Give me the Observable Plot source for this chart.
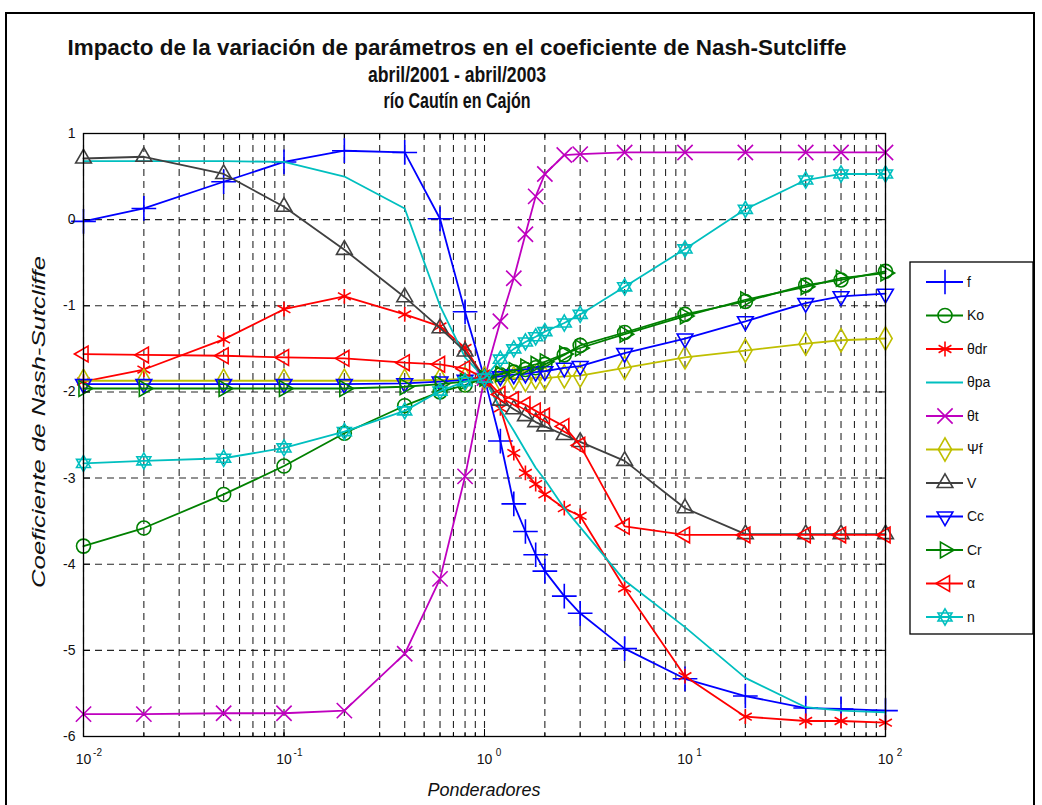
<!DOCTYPE html>
<html><head><meta charset="utf-8">
<script src="https://cdn.jsdelivr.net/npm/d3@7"></script>
<script src="https://cdn.jsdelivr.net/npm/@observablehq/plot@0.6"></script>
<style>
html,body{margin:0;padding:0;background:#fff;}
#page{position:relative;width:1042px;height:805px;overflow:hidden;font-family:"Liberation Sans",Arial,sans-serif;}
#outer{position:absolute;left:5px;top:12px;width:1030px;height:800px;border:2px solid #000;box-sizing:border-box;}
#chart{position:absolute;left:0;top:0;}
#overlay{position:absolute;left:0;top:0;}
</style>
</head><body>
<div id="page">
  <div id="outer"></div>
  <div id="chart"></div>
  <svg id="overlay" width="1042" height="805"></svg>
</div>
<script>
// ---------- data ----------
const ponderadores = [0.01,0.02,0.05,0.1,0.2,0.4,0.6,0.8,1,1.2,1.4,1.6,1.8,2,2.5,3,5,10,20,40,60,100];
const seriesNames = ["f","Ko","θdr","θpa","θt","Ψf","V","Cc","Cr","α","n"];
const f_vals   = [-0.02,0.13,0.44,0.67,0.80,0.78,0.01,-1.07,-1.84,-2.57,-3.30,-3.62,-3.89,-4.08,-4.37,-4.57,-4.98,-5.33,-5.53,-5.67,-5.68,-5.70];
const Ko_vals  = [-3.79,-3.58,-3.19,-2.86,-2.48,-2.16,-2.00,-1.92,-1.84,-1.80,-1.77,-1.74,-1.72,-1.68,-1.57,-1.46,-1.31,-1.10,-0.95,-0.76,-0.70,-0.60];
const tdr_vals = [-1.88,-1.74,-1.39,-1.04,-0.89,-1.10,-1.24,-1.49,-1.84,-2.19,-2.71,-2.94,-3.07,-3.19,-3.35,-3.44,-4.28,-5.30,-5.77,-5.82,-5.82,-5.84];
const tpa_vals = [0.68,0.68,0.68,0.67,0.50,0.13,-1.00,-1.60,-1.84,-2.20,-2.45,-2.68,-2.88,-3.02,-3.35,-3.57,-4.19,-4.73,-5.32,-5.66,-5.70,-5.72];
const tt_vals  = [-5.74,-5.74,-5.73,-5.73,-5.70,-5.04,-4.17,-2.98,-1.84,-1.18,-0.68,-0.17,0.27,0.53,0.75,0.76,0.78,0.78,0.78,0.78,0.78,0.78];
const psi_vals = [-1.87,-1.87,-1.87,-1.87,-1.87,-1.87,-1.86,-1.85,-1.84,-1.86,-1.84,-1.86,-1.83,-1.84,-1.82,-1.81,-1.72,-1.60,-1.52,-1.44,-1.40,-1.38];
const V_vals   = [0.71,0.73,0.53,0.15,-0.35,-0.90,-1.26,-1.53,-1.84,-2.10,-2.20,-2.28,-2.35,-2.40,-2.50,-2.58,-2.80,-3.35,-3.65,-3.65,-3.65,-3.65];
const Cc_vals  = [-1.91,-1.91,-1.91,-1.91,-1.91,-1.90,-1.88,-1.86,-1.84,-1.82,-1.80,-1.79,-1.77,-1.76,-1.72,-1.70,-1.55,-1.38,-1.18,-0.97,-0.89,-0.86];
const Cr_vals  = [-1.96,-1.96,-1.96,-1.96,-1.96,-1.94,-1.91,-1.88,-1.84,-1.79,-1.75,-1.71,-1.68,-1.65,-1.56,-1.49,-1.33,-1.12,-0.93,-0.78,-0.68,-0.62];
const a_vals   = [-1.56,-1.57,-1.58,-1.60,-1.61,-1.66,-1.68,-1.73,-1.84,-2.03,-2.09,-2.15,-2.22,-2.28,-2.40,-2.62,-3.56,-3.66,-3.66,-3.66,-3.66,-3.66];
const n_vals   = [-2.83,-2.80,-2.77,-2.65,-2.46,-2.22,-1.99,-1.88,-1.84,-1.62,-1.50,-1.42,-1.36,-1.30,-1.20,-1.10,-0.78,-0.34,0.12,0.46,0.53,0.53];
const yTicks = [1,0,-1,-2,-3,-4,-5,-6];
const xDecades = [0.01,0.1,1,10,100];
const titleLines = ["Impacto de la variación de parámetros en el coeficiente de Nash-Sutcliffe","abril/2001 - abril/2003","río Cautín en Cajón"];
const yLabel = "Coeficiente de Nash-Sutcliffe";
const xLabel = "Ponderadores";

// ---------- styles ----------
const hexagram = {
  draw(ctx, size) {
    const r = Math.sqrt(size / Math.PI) * 1.15;
    for (const a0 of [-90, 90]) {
      for (let k = 0; k < 3; k++) {
        const a = (a0 + 120 * k) * Math.PI / 180;
        const px = r * Math.cos(a), py = r * Math.sin(a);
        if (k === 0) ctx.moveTo(px, py); else ctx.lineTo(px, py);
      }
      ctx.closePath();
    }
  }
};
const styles = {
  "f":   {color:"#0000ff", symbol:"plus",     r:8,   rotate:0},
  "Ko":  {color:"#008000", symbol:"circle",   r:7,   rotate:0},
  "θdr": {color:"#ff0000", symbol:"asterisk", r:7,   rotate:0},
  "θpa": {color:"#00bfbf", symbol:null},
  "θt":  {color:"#bf00bf", symbol:"times",    r:7,   rotate:0},
  "Ψf":  {color:"#bfbf00", symbol:"diamond",  r:7,   rotate:0},
  "V":   {color:"#404040", symbol:"triangle2",r:7.5, rotate:0},
  "Cc":  {color:"#0000ff", symbol:"triangle2",r:7.5, rotate:180},
  "Cr":  {color:"#008000", symbol:"triangle2",r:7.5, rotate:90},
  "α":   {color:"#ff0000", symbol:"triangle2",r:7.5, rotate:-90},
  "n":   {color:"#00bfbf", symbol:hexagram,   r:7,   rotate:0}
};
const valuesByName = {"f":f_vals,"Ko":Ko_vals,"θdr":tdr_vals,"θpa":tpa_vals,"θt":tt_vals,"Ψf":psi_vals,"V":V_vals,"Cc":Cc_vals,"Cr":Cr_vals,"α":a_vals,"n":n_vals};

const W = 1042, H = 805;
const mL = 83, mT = 133, mR = W - 885, mB = H - 736;
const allTicks = d3.scaleLog().domain([0.01,100]).ticks();

const marks = [
  Plot.gridX(allTicks, {stroke:"#000", strokeOpacity:0.85, strokeWidth:1.1, strokeDasharray:"7,5"}),
  Plot.gridY(yTicks, {stroke:"#000", strokeOpacity:0.85, strokeWidth:1.1, strokeDasharray:"7,5"})
];
for (const name of seriesNames) {
  const s = styles[name];
  const data = ponderadores.map((x, i) => ({x, y: valuesByName[name][i]}));
  marks.push(Plot.line(data, {x:"x", y:"y", stroke:s.color, strokeWidth:1.8}));
  if (s.symbol) {
    marks.push(Plot.dot(data, {x:"x", y:"y", stroke:s.color, fill:"none", strokeWidth:1.6, symbol:s.symbol, r:s.r, rotate:s.rotate}));
  }
}
marks.push(
  Plot.axisX(allTicks, {anchor:"bottom", tickSize:-4, tickFormat:() => "", stroke:"#000", label:null}),
  Plot.axisX(allTicks, {anchor:"top", tickSize:-4, tickFormat:() => "", stroke:"#000", label:null}),
  Plot.axisX(xDecades, {anchor:"bottom", tickSize:-7, tickFormat:() => "", stroke:"#000", label:null}),
  Plot.axisX(xDecades, {anchor:"top", tickSize:-7, tickFormat:() => "", stroke:"#000", label:null}),
  Plot.axisY(yTicks, {anchor:"left", tickSize:-7, tickPadding:15, fontSize:14, stroke:"#000", fill:"#111", label:null, tickFormat:d => String(d)}),
  Plot.axisY(yTicks, {anchor:"right", tickSize:-7, tickFormat:() => "", stroke:"#000", label:null}),
  Plot.text(xDecades, {x:d => d, frameAnchor:"bottom", text:() => "10", dy:27, fontSize:14, fill:"#111"}),
  Plot.text(xDecades, {x:d => d, frameAnchor:"bottom", text:d => String(Math.round(Math.log10(d))), dx:14, dy:19, fontSize:10, fill:"#111"}),
  Plot.frame({stroke:"#000", strokeWidth:1.3})
);

const chart = Plot.plot({
  width: W, height: H,
  marginLeft: mL, marginTop: mT, marginRight: mR, marginBottom: mB,
  style: {fontFamily:"Liberation Sans, Arial, sans-serif", background:"transparent"},
  x: {type:"log", domain:[0.01,100], axis:null},
  y: {domain:[-6,1], axis:null},
  marks
});
document.getElementById("chart").appendChild(chart);

// ---------- overlay: titles, axis labels, legend ----------
const svg = d3.select("#overlay");
const FONT = "Liberation Sans, Arial, sans-serif";
const titleSpecs = [{y:47, len:779}, {y:74, len:178}, {y:100, len:147}];
titleLines.forEach((t, i) => {
  svg.append("text").attr("x", 457).attr("y", titleSpecs[i].y).attr("dy", "0.35em")
    .attr("text-anchor", "middle").attr("font-family", FONT).attr("font-weight", "bold")
    .attr("font-size", 22).attr("fill", "#111")
    .attr("textLength", titleSpecs[i].len).attr("lengthAdjust", "spacingAndGlyphs").text(t);
});
svg.append("text").attr("transform", "translate(38,422) rotate(-90)").attr("dy", "0.35em")
  .attr("text-anchor", "middle").attr("font-family", FONT).attr("font-style", "italic")
  .attr("font-size", 19).attr("fill", "#111")
  .attr("textLength", 332).attr("lengthAdjust", "spacingAndGlyphs").text(yLabel);
svg.append("text").attr("x", 484).attr("y", 790).attr("dy", "0.35em")
  .attr("text-anchor", "middle").attr("font-family", FONT).attr("font-style", "italic")
  .attr("font-size", 18).attr("fill", "#111")
  .attr("textLength", 113).attr("lengthAdjust", "spacingAndGlyphs").text(xLabel);

const lx = 910, ly = 262, lw = 123, lh = 372, step = 33.5;
svg.append("rect").attr("x", lx).attr("y", ly).attr("width", lw).attr("height", lh)
  .attr("fill", "#fff").attr("stroke", "#000").attr("stroke-width", 1.3);
const symMap = {plus:d3.symbolPlus, circle:d3.symbolCircle, asterisk:d3.symbolAsterisk, times:d3.symbolTimes, diamond:d3.symbolDiamond, triangle2:d3.symbolTriangle2};
seriesNames.forEach((name, i) => {
  const s = styles[name];
  const cy = ly + 20 + i * step;
  const g = svg.append("g");
  g.append("line").attr("x1", lx + 16).attr("x2", lx + 53).attr("y1", cy).attr("y2", cy)
    .attr("stroke", s.color).attr("stroke-width", 1.8);
  if (s.symbol) {
    const type = typeof s.symbol === "string" ? symMap[s.symbol] : s.symbol;
    g.append("path").attr("d", d3.symbol(type, s.r * s.r * Math.PI)())
      .attr("transform", `translate(${lx + 35},${cy}) rotate(${s.rotate})`)
      .attr("fill", "none").attr("stroke", s.color).attr("stroke-width", 1.6);
  }
  g.append("text").attr("x", lx + 57).attr("y", cy).attr("dy", "0.35em")
    .attr("font-family", FONT).attr("font-size", 14).attr("fill", "#111").text(name);
});
</script>
</body></html>
